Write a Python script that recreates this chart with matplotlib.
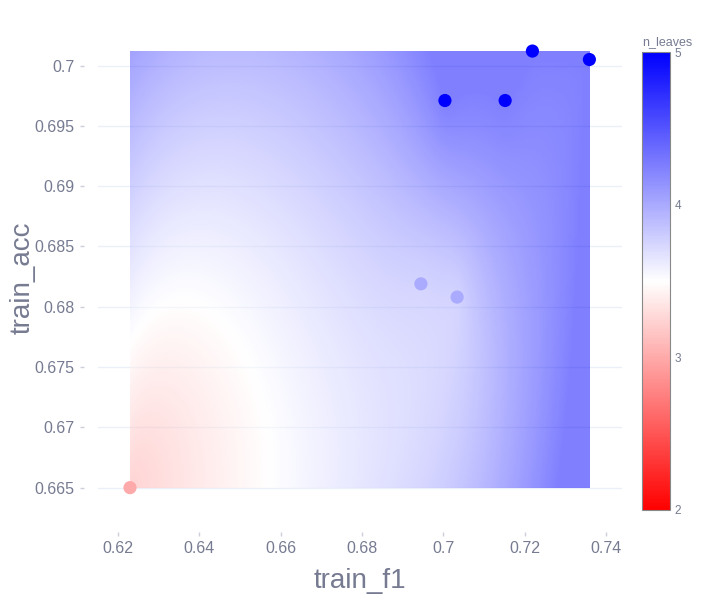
import numpy as np
import matplotlib.pyplot as plt
from matplotlib.colors import LinearSegmentedColormap

plt.rcParams['font.family'] = ['Liberation Sans', 'DejaVu Sans']

# points
train_f1 = [0.6230, 0.6945, 0.7034, 0.7004, 0.7152, 0.7219, 0.7359]
train_acc = [0.6650, 0.6819, 0.6808, 0.6971, 0.6971, 0.7012, 0.7005]
n_leaves = [3, 4, 4, 5, 5, 5, 5]

x = np.array(train_f1)
y = np.array(train_acc)
z = np.array(n_leaves, dtype=float)

# linear rbf surface through the points (background)
D = np.hypot(x[:, None] - x[None, :], y[:, None] - y[None, :])
w = np.linalg.solve(D, z)
gx = np.linspace(x.min(), x.max(), 300)
gy = np.linspace(y.min(), y.max(), 300)
GX, GY = np.meshgrid(gx, gy)
R = np.hypot(GX[..., None] - x, GY[..., None] - y)
Z = (R * w).sum(axis=-1)

cmap = LinearSegmentedColormap.from_list('rwb', ['#ff0000', '#ffffff', '#0000ff'])
txt = '#767b91'

fig = plt.figure(figsize=(7.04, 6), dpi=100)
ax = fig.add_axes([0.139, 0.137, 0.745, 0.800])
ax.imshow(Z, origin='lower', extent=[x.min(), x.max(), y.min(), y.max()],
          cmap=cmap, vmin=2, vmax=5, alpha=0.5, aspect='auto',
          interpolation='bilinear', zorder=1)
sc = ax.scatter(x, y, c=z, cmap=cmap, vmin=2, vmax=5, s=90,
                linewidths=0, zorder=3)

ax.set_xlim(0.6151, 0.7440)
ax.set_ylim(0.6625, 0.7023)
ax.set_xticks([0.62, 0.64, 0.66, 0.68, 0.70, 0.72, 0.74])
ax.set_xticklabels(['0.62', '0.64', '0.66', '0.68', '0.7', '0.72', '0.74'])
ax.set_yticks([0.665, 0.67, 0.675, 0.68, 0.685, 0.69, 0.695, 0.70])
ax.set_yticklabels(['0.665', '0.67', '0.675', '0.68', '0.685', '0.69', '0.695', '0.7'])
ax.set_axisbelow(True)
ax.grid(axis='y', color='#ebf0f8', lw=1)
for s in ax.spines.values():
    s.set_visible(False)
ax.spines['left'].set_position(('outward', 10))
ax.spines['bottom'].set_position(('outward', 10))
ax.tick_params(colors='#ccd0dc', labelcolor=txt, labelsize=11.5, length=3, width=1, pad=4)
ax.set_xlabel('train_f1', fontsize=20, color=txt, labelpad=8)
ax.set_ylabel('train_acc', fontsize=20, color=txt)
ax.yaxis.set_label_coords(-0.118, 0.5)

cax = fig.add_axes([0.912, 0.150, 0.040, 0.763])
cb = fig.colorbar(sc, cax=cax, ticks=[2, 3, 4, 5])
cb.outline.set_edgecolor('#888888')
cb.ax.tick_params(length=0, labelsize=8.5, labelcolor=txt, pad=3)
cax.set_title('n_leaves', fontsize=9, color=txt, pad=5, loc='left')

fig.savefig('out.png', dpi=100)
